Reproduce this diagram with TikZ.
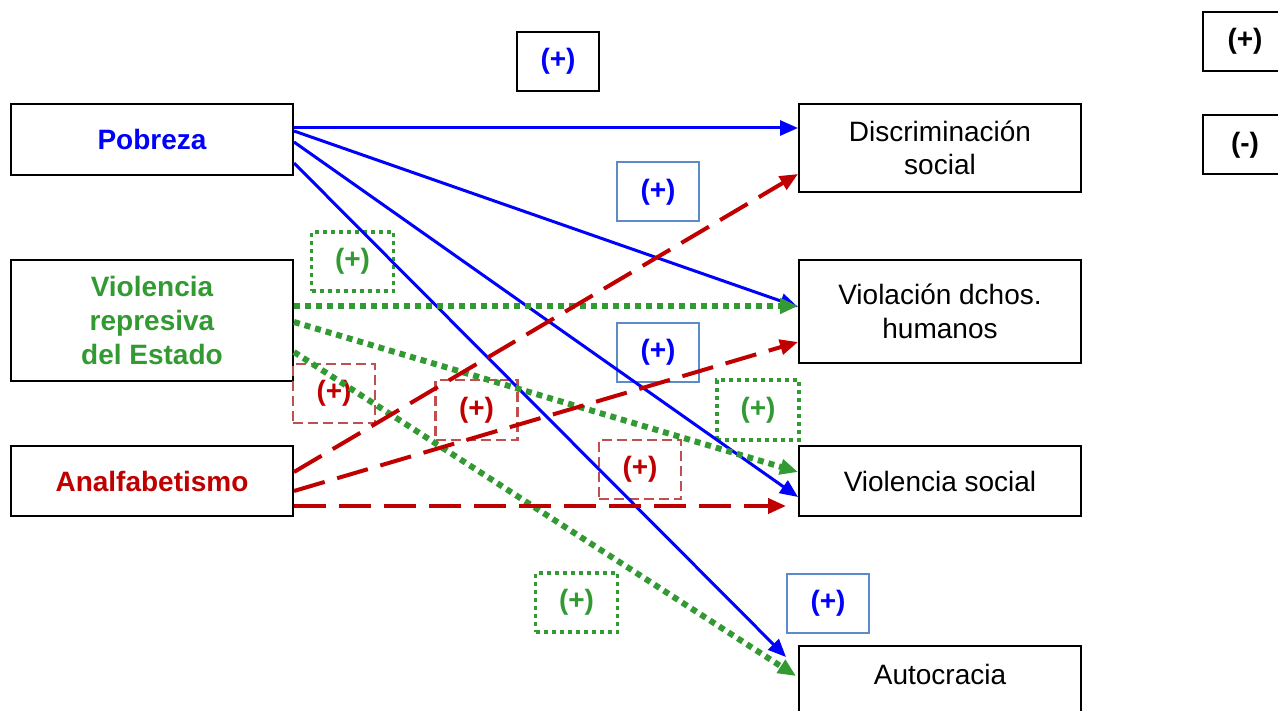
\documentclass[tikz,border=0pt]{standalone}
\usepackage{fontspec}
\setmainfont{Liberation Sans}
\usetikzlibrary{arrows.meta,calc}
\definecolor{pblue}{RGB}{0,0,255}
\definecolor{pgreen}{RGB}{51,153,51}
\definecolor{pred}{RGB}{192,0,0}
\definecolor{lblue}{RGB}{91,139,201}
\definecolor{lred}{RGB}{192,80,77}

\begin{document}
\begin{tikzpicture}
  [x=0.5pt,y=-0.5pt,
   every node/.style={font=\fontsize{14}{16.8}\selectfont,align=center,inner sep=0pt},
   box/.style={draw,line width=1pt,minimum width=141pt},
   cause/.style={box,font=\fontsize{14}{16.8}\selectfont\bfseries},
   sign/.style={draw,line width=1pt,minimum width=41pt,minimum height=29.5pt,
     font=\fontsize{14}{16.8}\selectfont\bfseries},
   bluesign/.style={sign,draw=lblue,text=pblue},
   greensign/.style={sign,draw=pgreen,text=pgreen,line width=1.6pt,dash pattern=on 2pt off 2pt},
   redsign/.style={sign,draw=lred,text=pred,line width=1.25pt,dash pattern=on 5pt off 2.5pt},
   tip/.style={-{Triangle[length=9pt,width=7.5pt]}},
   blueline/.style={tip,pblue,line width=1.5pt},
   greenline/.style={tip,pgreen,line width=3pt,dash pattern=on 3pt off 2.5pt},
   redline/.style={tip,pred,line width=2pt,dash pattern=on 16pt off 6.5pt}]
  \clip (0,0) rectangle (1278,711);

  \node[cause,minimum height=35.5pt,text=pblue] (pob) at (152,139.5) {Pobreza};
  \node[cause,minimum height=60.5pt,text=pgreen] (vio) at (152,320.5) {Violencia\\represiva\\del Estado};
  \node[cause,minimum height=35pt,text=pred] (ana) at (152,481) {Analfabetismo};

  \node[box,minimum height=44pt] (dis) at (940,148) {Discriminación\\social};
  \node[box,minimum height=51.5pt] (vdh) at (940,311.5) {Violación dchos.\\humanos};
  \node[box,minimum height=35pt] (vso) at (940,481) {Violencia social};
  \node[box,anchor=north,inner ysep=9pt,text height=10pt,text depth=20pt] (aut) at (940,645) {Autocracia};

  \node[sign,minimum width=42pt] (legpos) at (1245,41.5) {(+)};
  \node[sign,minimum width=42pt] (legneg) at (1245,145) {(-)};

  \node[sign,text=pblue] (s1) at (558,61.5) {(+)};
  \node[bluesign] (s2) at (658,192) {(+)};
  \node[bluesign] (s3) at (658,352) {(+)};
  \node[bluesign] (s4) at (828,603) {(+)};
  \node[greensign] (s5) at (352.5,261.5) {(+)};
  \node[greensign,minimum height=30pt] (s6) at (758,410) {(+)};
  \node[greensign] (s7) at (576.5,602.5) {(+)};
  \node[redsign] (s8) at (334,393.5) {(+)};
  \node[redsign,minimum height=30pt] (s9) at (476.5,410) {(+)};
  \node[redsign] (s10) at (640,469.5) {(+)};

  \foreach \sy/\to/\tx/\ty in {-11.5/dis.west/0/-20, -8.5/vdh.west/0/-4.5,
                               2.5/vso.west/0/16, 23.5/aut.north west/-12/12}
    \draw[blueline] ($(pob.east)+(0,\sy)$) -- ($(\to)+(\tx,\ty)$);

  \foreach \sy/\to/\tx/\ty in {-14.5/vdh.west/0/-5.5, 1.5/vso.west/0/-9,
                               31.5/aut.north west/-2/31}
    \draw[greenline] ($(vio.east)+(0,\sy)$) -- ($(\to)+(\tx,\ty)$);

  \foreach \sy/\to/\tx/\ty in {-9/dis.west/0/26, 10/vdh.west/0/30.5,
                               25/vso.west/-12/25}
    \draw[redline] ($(ana.east)+(0,\sy)$) -- ($(\to)+(\tx,\ty)$);

\end{tikzpicture}
\end{document}
